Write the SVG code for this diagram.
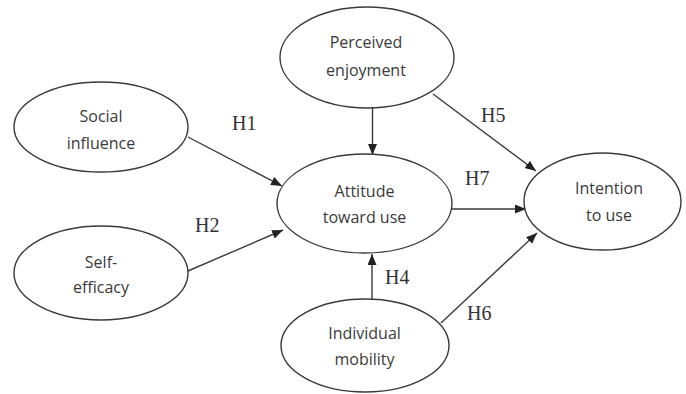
<svg xmlns="http://www.w3.org/2000/svg" width="686" height="394" viewBox="0 0 686 394">
<style>
.node ellipse{fill:#fff;stroke:#3a3a3a;stroke-width:1.4}
.node text{font-family:"Open Sans","Noto Sans",sans-serif;font-size:16px;fill:#3a3a3a;text-anchor:middle}
.edge line{stroke:#3a3a3a;stroke-width:1.4;marker-end:url(#arr)}
.lbl{font-family:"Liberation Serif",serif;font-size:20px;fill:#333}
</style>
<defs>
<marker id="arr" markerUnits="userSpaceOnUse" markerWidth="12" markerHeight="10" refX="11" refY="4.5" orient="auto">
<path d="M0,0 L11,4.5 L0,9 z" fill="#222"/>
</marker>
</defs>
<rect width="686" height="394" fill="#fff"/>
<g id="connectors" class="edge">
<line x1="188" y1="137" x2="282" y2="186"/>
<line x1="188" y1="271" x2="283" y2="230"/>
<line x1="372.5" y1="108" x2="372.5" y2="155"/>
<line x1="433" y1="94" x2="536" y2="171"/>
<line x1="452" y1="209" x2="526" y2="209"/>
<line x1="372" y1="299" x2="372" y2="254"/>
<line x1="441" y1="323" x2="537" y2="233"/>
</g>
<g id="labels">
<text class="lbl" x="232" y="130">H1</text>
<text class="lbl" x="195" y="232">H2</text>
<text class="lbl" x="481" y="122">H5</text>
<text class="lbl" x="465" y="185">H7</text>
<text class="lbl" x="385" y="284">H4</text>
<text class="lbl" x="467" y="320">H6</text>
</g>
<g id="social-influence" class="node">
<ellipse cx="101" cy="127" rx="87" ry="45"/>
<text x="101" y="122">Social</text>
<text x="101" y="149">influence</text>
</g>
<g id="self-efficacy" class="node">
<ellipse cx="101" cy="273" rx="87" ry="47"/>
<text x="101" y="268">Self-</text>
<text x="101" y="293">efficacy</text>
</g>
<g id="perceived-enjoyment" class="node">
<ellipse cx="367" cy="57.5" rx="87" ry="50.5"/>
<text x="366" y="48">Perceived</text>
<text x="366" y="76">enjoyment</text>
</g>
<g id="attitude" class="node">
<ellipse cx="364.5" cy="203.5" rx="87.5" ry="49.5"/>
<text x="364.5" y="197">Attitude</text>
<text x="364.5" y="223">toward use</text>
</g>
<g id="intention" class="node">
<ellipse cx="602.5" cy="201.5" rx="78.5" ry="48.5"/>
<text x="609" y="194">Intention</text>
<text x="609" y="221">to use</text>
</g>
<g id="individual-mobility" class="node">
<ellipse cx="365" cy="345.5" rx="84" ry="46.5"/>
<text x="364.5" y="339">Individual</text>
<text x="364.5" y="365">mobility</text>
</g>
</svg>
